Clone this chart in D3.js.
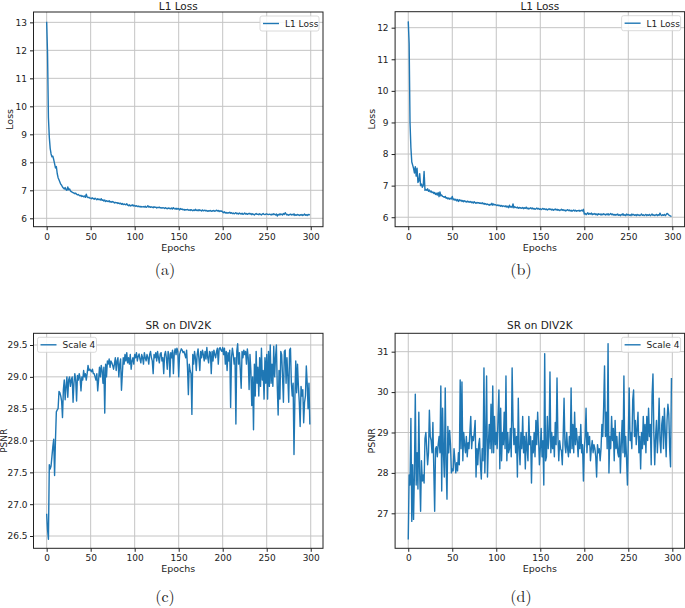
<!DOCTYPE html>
<html><head><meta charset="utf-8">
<script src="https://cdn.jsdelivr.net/npm/d3@7"></script>
<style>
body{margin:0;background:#fff;}
text{font-family:"DejaVu Sans",sans-serif;fill:#222;}
</style></head><body>
<svg id="c" width="685" height="608"></svg>
<script>
// ---------- data (epochs 0..299) ----------
const lossA = [
13.02,11.9,9.6,8.9,8.5,8.3,8.2,8.22,8.1,7.95,
7.8,7.85,7.6,7.45,7.38,7.3,7.22,7.18,7.12,7.08,
7.05,7.1,7.02,7.0,7.12,7.02,7.05,6.98,6.95,6.93,
6.92,6.9,6.88,6.9,6.86,6.84,6.85,6.82,6.8,6.82,
6.78,6.8,6.77,6.8,6.75,6.86,6.76,6.74,6.75,6.72,
6.72,6.7,6.73,6.7,6.68,6.72,6.69,6.66,6.7,6.67,
6.68,6.65,6.7,6.64,6.66,6.62,6.65,6.6,6.63,6.61,
6.6,6.63,6.58,6.6,6.57,6.6,6.58,6.55,6.57,6.55,
6.56,6.53,6.55,6.52,6.54,6.5,6.53,6.49,6.51,6.5,
6.48,6.52,6.47,6.45,6.48,6.44,6.47,6.45,6.48,6.44,
6.46,6.43,6.45,6.42,6.44,6.41,6.43,6.4,6.42,6.41,
6.42,6.4,6.43,6.39,6.41,6.45,6.4,6.42,6.39,6.41,
6.4,6.38,6.41,6.39,6.4,6.37,6.39,6.38,6.4,6.37,
6.38,6.36,6.38,6.37,6.35,6.38,6.36,6.34,6.37,6.35,
6.36,6.34,6.37,6.33,6.38,6.35,6.33,6.36,6.32,6.35,
6.34,6.3,6.35,6.32,6.33,6.3,6.32,6.29,6.31,6.3,
6.32,6.29,6.3,6.28,6.31,6.29,6.27,6.3,6.28,6.32,
6.28,6.3,6.27,6.31,6.28,6.29,6.26,6.3,6.27,6.28,
6.29,6.26,6.28,6.25,6.27,6.26,6.28,6.25,6.27,6.26,
6.28,6.25,6.27,6.29,6.26,6.28,6.24,6.27,6.25,6.26,
6.22,6.2,6.23,6.19,6.21,6.18,6.2,6.19,6.22,6.18,
6.2,6.17,6.19,6.16,6.18,6.2,6.16,6.18,6.15,6.19,
6.17,6.15,6.18,6.14,6.16,6.19,6.15,6.17,6.14,6.16,
6.18,6.15,6.17,6.13,6.16,6.14,6.12,6.15,6.17,6.14,
6.15,6.13,6.16,6.14,6.12,6.15,6.17,6.14,6.13,6.15,
6.16,6.14,6.13,6.15,6.14,6.12,6.15,6.13,6.16,6.14,
6.12,6.15,6.08,6.14,6.12,6.16,6.13,6.15,6.12,6.17,
6.14,6.2,6.15,6.12,6.14,6.11,6.13,6.15,6.12,6.14,
6.12,6.16,6.1,6.13,6.11,6.14,6.12,6.1,6.13,6.11,
6.14,6.1,6.12,6.15,6.11,6.13,6.1,6.14,6.12,6.14];

const lossB = [
12.2,11.5,9.0,8.2,7.75,7.65,7.55,7.4,7.6,7.3,
7.55,7.1,7.15,7.38,7.0,7.05,6.95,7.0,7.45,6.85,
6.88,6.85,6.9,6.82,6.86,6.8,6.83,6.78,6.8,6.75,
6.78,6.72,6.76,6.7,6.78,6.65,6.8,6.68,6.7,6.66,
6.65,6.63,6.66,6.6,6.62,6.58,6.61,6.57,6.6,6.58,
6.66,6.55,6.58,6.54,6.57,6.52,6.56,6.5,6.55,6.52,
6.54,6.5,6.53,6.49,6.52,6.5,6.48,6.51,6.48,6.5,
6.47,6.5,6.46,6.48,6.45,6.49,6.46,6.44,6.47,6.45,
6.46,6.44,6.45,6.43,6.46,6.42,6.44,6.41,6.43,6.4,
6.42,6.4,6.38,6.41,6.39,6.44,6.38,6.42,6.39,6.4,
6.38,6.37,6.39,6.36,6.38,6.35,6.37,6.34,6.36,6.35,
6.33,6.36,6.32,6.35,6.3,6.38,6.32,6.34,6.31,6.42,
6.3,6.33,6.31,6.3,6.32,6.28,6.31,6.29,6.3,6.28,
6.31,6.27,6.3,6.28,6.32,6.27,6.29,6.26,6.28,6.3,
6.27,6.29,6.26,6.28,6.25,6.27,6.29,6.26,6.28,6.25,
6.27,6.24,6.26,6.28,6.25,6.27,6.24,6.26,6.23,6.25,
6.27,6.24,6.26,6.23,6.25,6.22,6.24,6.26,6.23,6.25,
6.22,6.24,6.21,6.23,6.25,6.22,6.24,6.21,6.23,6.2,
6.22,6.24,6.21,6.23,6.2,6.22,6.19,6.21,6.23,6.2,
6.22,6.19,6.21,6.2,6.22,6.19,6.21,6.22,6.2,6.25,
6.1,6.12,6.08,6.11,6.14,6.09,6.12,6.1,6.13,6.08,
6.11,6.09,6.12,6.08,6.1,6.07,6.11,6.09,6.1,6.07,
6.1,6.08,6.11,6.09,6.07,6.1,6.08,6.11,6.07,6.09,
6.12,6.08,6.1,6.07,6.09,6.06,6.09,6.07,6.1,6.06,
6.08,6.05,6.09,6.07,6.11,6.06,6.08,6.05,6.1,6.07,
6.09,6.06,6.08,6.05,6.1,6.07,6.09,6.06,6.08,6.05,
6.09,6.06,6.08,6.05,6.07,6.1,6.06,6.08,6.05,6.07,
6.09,6.05,6.08,6.06,6.09,6.05,6.07,6.1,6.06,6.08,
6.05,6.07,6.09,6.05,6.08,6.06,6.13,6.07,6.05,6.08,
6.06,6.09,6.05,6.08,6.12,6.1,6.07,6.05,6.04,6.02];

const psnrC = [
26.85,26.6,26.45,27.62,27.55,27.6,27.75,27.9,28.02,27.45,
28.0,28.45,28.48,28.5,28.77,28.75,28.7,28.62,28.36,28.8,
28.95,28.64,28.85,29.0,28.68,28.95,29.0,28.85,28.95,29.0,
28.6,28.9,29.05,28.95,28.62,29.02,28.95,29.05,28.98,28.78,
29.0,28.95,29.1,29.0,29.05,28.95,29.05,29.18,29.1,29.12,
29.1,29.08,29.12,29.05,29.05,29.0,28.95,29.05,28.78,28.95,
29.15,29.0,29.18,29.1,28.9,29.15,28.43,29.2,29.0,29.25,
29.2,29.28,29.15,29.25,29.22,29.18,29.12,29.2,29.3,29.1,
29.25,29.3,29.0,29.2,29.28,28.79,29.05,29.3,29.2,29.35,
29.25,29.38,29.22,29.3,29.2,29.35,29.12,29.25,29.3,29.2,
29.35,29.3,29.38,29.25,29.32,29.36,29.28,29.22,29.35,29.3,
29.2,29.38,29.3,29.25,29.35,29.3,29.2,29.35,29.4,29.3,
29.25,29.05,29.35,29.3,29.38,29.25,29.4,29.3,29.22,29.36,
29.38,29.25,29.3,29.05,29.35,29.4,29.3,29.12,29.4,29.35,
29.0,29.38,29.3,29.42,29.05,29.38,29.44,29.35,29.45,29.4,
29.0,29.35,29.4,29.44,29.42,29.38,29.4,29.35,29.3,29.42,
29.15,28.72,29.2,29.1,29.05,28.41,29.35,29.2,29.4,29.3,
29.1,29.35,29.44,29.28,29.1,29.4,29.3,29.42,29.35,29.25,
29.4,29.28,29.46,29.3,29.22,29.4,29.38,29.05,29.4,29.25,
29.42,29.35,29.3,29.4,29.45,29.2,29.44,29.46,29.42,29.4,
29.46,29.35,29.45,29.2,29.4,29.1,29.38,29.25,29.42,28.52,
29.3,29.45,29.35,29.2,29.3,28.26,29.4,29.52,29.2,29.38,
29.1,28.82,29.4,29.3,29.42,29.35,29.4,29.2,29.44,29.3,
28.8,29.35,29.1,28.55,29.0,28.17,29.2,28.7,29.4,28.9,
29.15,28.7,29.3,28.85,29.45,28.95,29.1,28.65,29.3,28.9,
29.35,28.65,29.4,28.85,29.5,28.9,29.2,28.85,29.48,29.0,
29.3,29.5,28.85,28.4,29.1,28.65,29.4,29.35,29.0,28.6,
29.4,29.42,28.9,29.3,29.0,28.6,29.42,29.45,28.9,28.7,
28.9,27.78,28.65,29.25,28.75,29.2,28.85,28.6,28.22,28.85,
28.7,28.8,28.28,28.6,28.7,29.17,28.9,28.5,28.9,28.25];

const psnrD = [
26.35,27.95,27.7,29.35,26.8,28.2,26.85,28.0,29.95,27.7,
28.5,27.6,29.5,28.0,27.05,28.3,27.8,27.95,27.75,28.85,
29.0,28.6,28.2,28.5,29.55,28.9,28.8,28.5,29.25,28.1,
27.05,28.6,28.65,28.4,28.7,28.9,28.5,30.15,27.55,29.6,
28.5,27.9,30.1,28.2,27.35,29.15,28.5,29.05,28.7,28.0,
28.1,28.05,28.6,28.3,28.0,28.25,28.05,28.5,28.2,30.3,
28.6,30.25,28.3,29.0,28.7,28.5,28.9,28.4,28.75,28.6,
29.0,29.4,28.6,28.9,28.8,29.0,29.3,27.9,28.6,28.2,
28.7,28.85,28.2,27.85,28.6,28.3,30.6,28.0,28.9,30.4,
27.9,28.7,29.2,28.6,29.7,28.5,30.15,28.5,29.4,28.7,
29.0,28.6,29.4,30.05,28.1,29.6,28.3,29.0,28.7,29.5,
28.6,30.4,28.3,29.0,28.5,28.6,29.1,28.4,30.6,29.3,
28.7,29.1,28.5,28.9,27.9,29.85,28.6,28.2,29.0,28.6,
29.4,28.5,28.9,28.1,29.0,28.6,28.3,29.4,28.7,28.9,
27.75,28.8,28.5,29.0,28.4,29.3,28.7,29.5,28.9,28.2,
28.6,29.1,28.4,28.8,27.7,30.95,28.3,28.4,29.4,28.6,
28.9,30.5,28.5,29.0,28.6,28.9,28.4,29.25,28.7,30.35,
28.9,28.3,28.8,28.6,28.55,28.2,28.9,29.85,28.7,28.5,
29.0,28.6,28.4,28.9,28.5,30.1,28.6,29.2,28.5,29.5,
28.7,29.1,28.8,28.4,28.9,28.6,29.2,28.5,28.7,27.8,
28.6,28.9,29.6,28.5,29.0,28.7,28.9,28.3,28.6,28.8,
28.5,28.7,28.6,28.4,27.9,28.7,28.5,28.6,28.3,28.6,
29.2,28.9,29.65,30.65,28.9,29.5,28.6,31.2,28.0,28.9,
28.6,29.4,28.8,29.1,28.3,29.3,28.6,28.9,28.5,28.4,
29.0,28.0,28.7,29.3,28.5,30.4,28.4,28.9,28.35,27.7,
28.9,30.1,28.8,29.0,28.6,29.8,30.05,28.9,29.3,28.7,
29.1,29.5,28.5,28.9,28.1,29.0,28.6,29.4,28.7,29.2,
28.5,29.4,28.8,29.6,28.9,29.2,28.2,29.9,30.45,29.0,
28.2,28.9,29.3,28.5,29.0,29.85,28.8,28.5,29.2,29.4,
28.6,29.6,29.0,28.4,29.3,29.7,29.45,28.6,28.15,30.35];

const xTicks = [0,50,100,150,200,250,300];
const yTicksA = [6,7,8,9,10,11,12,13];
const yTicksB = [6,7,8,9,10,11,12];
const yTicksC = [26.5,27.0,27.5,28.0,28.5,29.0,29.5];
const yTicksD = [27,28,29,30,31];
const titles = ["L1 Loss","L1 Loss","SR on DIV2K","SR on DIV2K"];
const yLabels = ["Loss","Loss","PSNR","PSNR"];
const xLabel = "Epochs";
const legendLabels = ["L1 Loss","L1 Loss","Scale 4","Scale 4"];
const captions = ["(a)","(b)","(c)","(d)"];

// ---------- drawing ----------
const svg = d3.select("#c");
const blue = "#1f77b4";

const panels = [
  {data:lossA, yt:yTicksA, fmt:d3.format("d"), x0:33.5, x1:323, y0:12, y1:226.7, yd:[5.70,13.37], legend:"right", cap:[165,275]},
  {data:lossB, yt:yTicksB, fmt:d3.format("d"), x0:395.1, x1:684.6, y0:11.7, y1:226.7, yd:[5.70,12.506], legend:"right", cap:[521,275]},
  {data:psnrC, yt:yTicksC, fmt:d3.format(".1f"), x0:33.5, x1:323, y0:333.3, y1:548.3, yd:[26.307,29.684], legend:"left", cap:[165,602]},
  {data:psnrD, yt:yTicksD, fmt:d3.format("d"), x0:395.1, x1:684.6, y0:333.3, y1:548.3, yd:[26.134,31.455], legend:"right", cap:[521,602]}
];

panels.forEach((p,i)=>{
  const g = svg.append("g");
  const x = d3.scaleLinear().domain([-14.95,313.95]).range([p.x0,p.x1]);
  const y = d3.scaleLinear().domain(p.yd).range([p.y1,p.y0]);

  // grid
  g.append("g").selectAll("line").data(xTicks).join("line")
    .attr("x1",d=>x(d)).attr("x2",d=>x(d)).attr("y1",p.y0).attr("y2",p.y1)
    .attr("stroke","#c4c4c4").attr("stroke-width",1);
  g.append("g").selectAll("line").data(p.yt).join("line")
    .attr("y1",d=>y(d)).attr("y2",d=>y(d)).attr("x1",p.x0).attr("x2",p.x1)
    .attr("stroke","#c4c4c4").attr("stroke-width",1);

  // line
  const line = d3.line().x((d,k)=>x(k)).y(d=>y(d));
  g.append("path").datum(p.data).attr("d",line)
    .attr("fill","none").attr("stroke",blue).attr("stroke-width",1.4)
    .attr("stroke-linejoin","round");

  // axes
  const ax = d3.axisBottom(x).tickValues(xTicks).tickSize(3.5).tickPadding(3).tickFormat(d3.format("d"));
  const ay = d3.axisLeft(y).tickValues(p.yt).tickSize(3.5).tickPadding(i===2 ? 2.5 : 3).tickFormat(p.fmt);
  const gx = g.append("g").attr("transform",`translate(0,${p.y1})`).call(ax);
  const gy = g.append("g").attr("transform",`translate(${p.x0},0)`).call(ay);
  [gx,gy].forEach(a=>{
    a.select(".domain").remove();
    a.selectAll("line").attr("stroke","#222");
    a.selectAll("text").style("font-size","9px").attr("fill","#222");
  });

  // frame
  g.append("rect").attr("x",p.x0).attr("y",p.y0).attr("width",p.x1-p.x0).attr("height",p.y1-p.y0)
    .attr("fill","none").attr("stroke","#222").attr("stroke-width",1);

  // title & labels
  const cx = (p.x0+p.x1)/2;
  g.append("text").attr("x",cx).attr("y",i<2 ? 9.5 : p.y0-4).attr("text-anchor","middle")
    .style("font-size","10.5px").text(titles[i]);
  g.append("text").attr("x",cx).attr("y",p.y1+24).attr("text-anchor","middle")
    .style("font-size","9.5px").text(xLabel);
  const ylx = i===2 ? 7.3 : p.x0 - 20.5;
  g.append("text").attr("transform",`translate(${ylx},${(p.y0+p.y1)/2}) rotate(-90)`)
    .attr("text-anchor","middle").style("font-size", i===2 ? "9px" : "9.5px").text(yLabels[i]);

  // legend
  const lw = 59, lh = 15;
  const lx = p.legend==="right" ? p.x1-4-lw : p.x0+4;
  const ly = p.y0+4;
  g.append("rect").attr("x",lx).attr("y",ly).attr("width",lw).attr("height",lh).attr("rx",2)
    .attr("fill","#fff").attr("fill-opacity",0.85).attr("stroke","#d0d0d0").attr("stroke-width",0.8);
  g.append("line").attr("x1",lx+3).attr("x2",lx+19).attr("y1",ly+lh/2).attr("y2",ly+lh/2)
    .attr("stroke",blue).attr("stroke-width",1.4);
  g.append("text").attr("x",lx+25).attr("y",ly+lh/2+3.3).style("font-size","9px").text(legendLabels[i]);

  // caption
  svg.append("text").attr("x",p.cap[0]).attr("y",p.cap[1]).attr("text-anchor","middle")
    .style("font-family","'Latin Modern Roman','Liberation Serif','DejaVu Serif',serif")
    .style("font-size","16px").text(captions[i]);
});
</script>
</body></html>
